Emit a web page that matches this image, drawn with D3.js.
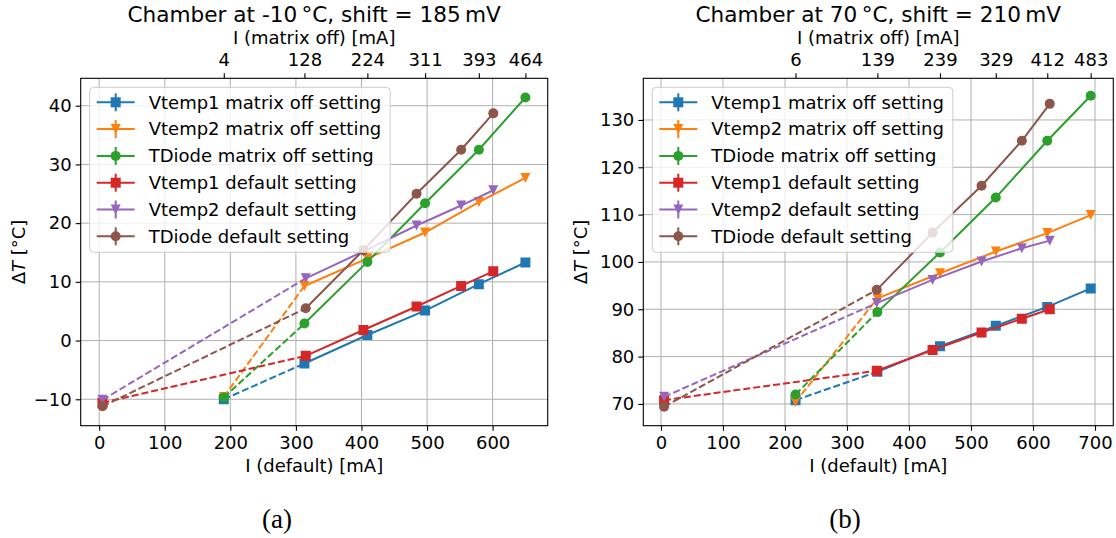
<!DOCTYPE html>
<html>
<head>
<meta charset="utf-8">
<script src="https://cdn.jsdelivr.net/npm/d3@7"></script>
<style>
  body { margin: 0; background: #fff; }
</style>
</head>
<body>
<svg id="chart" width="1116" height="538"></svg>
<script>
const seriesNames = [
    'Vtemp1 matrix off setting',
    'Vtemp2 matrix off setting',
    'TDiode matrix off setting',
    'Vtemp1 default setting',
    'Vtemp2 default setting',
    'TDiode default setting'
];
const seriesColors = ['#1f77b4', '#ff7f0e', '#2ca02c', '#d62728', '#9467bd', '#8c564b'];
const seriesMarkers = ['square', 'triangle', 'circle', 'square', 'triangle', 'circle'];

// (a) chamber at -10 C
const aOffCurrent = [190, 313, 409, 497, 579, 650];
const aOffLabels = [4, 128, 224, 311, 393, 464];
const aDefCurrent = [5, 315, 403, 484, 552, 601];
const aVtemp1Off = [-10.0, -3.9, 0.95, 5.1, 9.6, 13.3];
const aVtemp2Off = [-9.6, 9.3, 14.0, 18.4, 23.6, 27.7];
const aTDiodeOff = [-9.7, 2.9, 13.4, 23.4, 32.5, 41.4];
const aVtemp1Def = [-10.6, -2.6, 1.8, 5.8, 9.3, 11.8];
const aVtemp2Def = [-10.1, 10.6, 15.2, 19.6, 23.0, 25.6];
const aTDiodeDef = [-11.2, 5.5, 15.4, 25.0, 32.5, 38.7];
const aXTicks = [0, 100, 200, 300, 400, 500, 600];
const aYTicks = [-10, 0, 10, 20, 30, 40];

// (b) chamber at 70 C
const bOffCurrent = [217, 349, 450, 540, 623, 693];
const bOffLabels = [6, 139, 239, 329, 412, 483];
const bDefCurrent = [5, 348, 438, 517, 582, 627];
const bVtemp1Off = [70.8, 76.8, 82.2, 86.5, 90.5, 94.4];
const bVtemp2Off = [70.4, 92.3, 97.6, 102.2, 106.1, 109.9];
const bTDiodeOff = [72.0, 89.4, 102.0, 113.6, 125.6, 135.1];
const bVtemp1Def = [70.8, 77.0, 81.4, 85.1, 88.0, 90.0];
const bVtemp2Def = [71.5, 91.3, 96.2, 100.1, 102.9, 104.5];
const bTDiodeDef = [69.4, 94.1, 106.2, 116.1, 125.6, 133.4];
const bXTicks = [0, 100, 200, 300, 400, 500, 600, 700];
const bYTicks = [70, 80, 90, 100, 110, 120, 130];

const sans = '"DejaVu Sans", sans-serif';
const serif = '"Liberation Serif", "DejaVu Serif", serif';

const svg = d3.select('#chart').style('font-family', sans);
svg.append('rect').attr('width', 1116).attr('height', 538).attr('fill', '#fff');

const markerPath = (type, s) => {
    const h = s / 2;
    if (type === 'square') return `M${-h},${-h}H${h}V${h}H${-h}Z`;
    if (type === 'triangle') return `M0,${h}L${-h},${-h}L${h},${-h}Z`;
    return d3.symbol(d3.symbolCircle, Math.PI * h * h)();
};

const drawPanel = p => {
    const g = svg.append('g');
    const x = d3.scaleLinear().domain(p.xDomain).range([p.left, p.right]);
    const y = d3.scaleLinear().domain(p.yDomain).range([p.bottom, p.top]);

    // grid
    g.append('g').selectAll('line').data(p.xTicks).enter().append('line')
            .attr('x1', d => x(d)).attr('x2', d => x(d))
            .attr('y1', p.top).attr('y2', p.bottom)
            .attr('stroke', '#b0b0b0').attr('stroke-width', 1);
    g.append('g').selectAll('line').data(p.yTicks).enter().append('line')
            .attr('x1', p.left).attr('x2', p.right)
            .attr('y1', d => y(d)).attr('y2', d => y(d))
            .attr('stroke', '#b0b0b0').attr('stroke-width', 1);

    // series: first segment dashed, the rest solid
    const clipId = 'clip' + p.id;
    svg.append('clipPath').attr('id', clipId).append('rect')
            .attr('x', p.left).attr('y', p.top)
            .attr('width', p.right - p.left).attr('height', p.bottom - p.top);
    const plot = g.append('g').attr('clip-path', `url(#${clipId})`);
    const line = d3.line().x(d => x(d[0])).y(d => y(d[1]));

    p.series.forEach((vals, i) => {
        const xs = i < 3 ? p.offCurrent : p.defCurrent;
        const pts = xs.map((v, j) => [v, vals[j]]);
        const sg = plot.append('g');
        sg.append('path').attr('d', line(pts.slice(0, 2)))
                .attr('fill', 'none').attr('stroke', seriesColors[i])
                .attr('stroke-width', 2).attr('stroke-dasharray', '7,3');
        sg.append('path').attr('d', line(pts.slice(1)))
                .attr('fill', 'none').attr('stroke', seriesColors[i])
                .attr('stroke-width', 2);
        sg.selectAll('path.m').data(pts).enter().append('path')
                .attr('class', 'm')
                .attr('d', markerPath(seriesMarkers[i], 10))
                .attr('transform', d => `translate(${x(d[0])},${y(d[1])})`)
                .attr('fill', seriesColors[i]);
    });

    // frame
    g.append('rect').attr('x', p.left).attr('y', p.top)
            .attr('width', p.right - p.left).attr('height', p.bottom - p.top)
            .attr('fill', 'none').attr('stroke', '#000').attr('stroke-width', 1.1);

    const styleAxis = a => {
        a.attr('font-family', null).attr('font-size', null);
        a.select('.domain').remove();
        a.selectAll('.tick line').attr('stroke', '#000').attr('stroke-width', 1.1);
        a.selectAll('.tick text').attr('font-size', 18).attr('fill', '#000');
    };

    g.append('g').attr('transform', `translate(0,${p.bottom})`)
            .call(d3.axisBottom(x).tickValues(p.xTicks).tickSize(5).tickPadding(6))
            .call(styleAxis);
    g.append('g').attr('transform', `translate(${p.left},0)`)
            .call(d3.axisLeft(y).tickValues(p.yTicks).tickSize(5).tickPadding(4))
            .call(styleAxis);
    g.append('g').attr('transform', `translate(0,${p.top})`)
            .call(d3.axisTop(x).tickValues(p.offCurrent).tickSize(5).tickPadding(7.5)
                    .tickFormat((d, i) => p.offLabels[i]))
            .call(styleAxis);

    const cx = (p.left + p.right) / 2;
    g.append('text').attr('x', cx).attr('y', 22).attr('text-anchor', 'middle')
            .attr('font-size', 21.6).text(p.title);
    g.append('text').attr('x', cx).attr('y', 43.5).attr('text-anchor', 'middle')
            .attr('font-size', 18).text('I (matrix off) [mA]');
    g.append('text').attr('x', cx).attr('y', 472).attr('text-anchor', 'middle')
            .attr('font-size', 18).text('I (default) [mA]');
    const yl = g.append('text')
            .attr('transform', `translate(${p.left - 56},${(p.top + p.bottom) / 2}) rotate(-90)`)
            .attr('text-anchor', 'middle').attr('font-size', 18);
    yl.append('tspan').text('\u0394');
    yl.append('tspan').attr('font-style', 'italic').text('T');
    yl.append('tspan').text(' [\u00b0C]');

    g.append('text').attr('x', p.capX).attr('y', 528).attr('text-anchor', 'middle')
            .style('font-family', serif)
            .attr('font-size', 27).text(p.caption);

    // legend
    const lg = g.append('g').attr('transform', `translate(${p.left + 9},${p.top + 9})`);
    const box = lg.append('rect').attr('fill', '#fff').attr('fill-opacity', 0.8)
            .attr('stroke', '#cccccc').attr('rx', 4);
    let maxW = 0;
    seriesNames.forEach((name, i) => {
        const ey = 15 + i * 26.8;
        lg.append('line').attr('x1', 7).attr('x2', 45).attr('y1', ey).attr('y2', ey)
                .attr('stroke', seriesColors[i]).attr('stroke-width', 2);
        lg.append('line').attr('x1', 26).attr('x2', 26).attr('y1', ey - 9).attr('y2', ey + 9)
                .attr('stroke', seriesColors[i]).attr('stroke-width', 2);
        lg.append('path').attr('d', markerPath(seriesMarkers[i], 10))
                .attr('transform', `translate(26,${ey})`).attr('fill', seriesColors[i]);
        const t = lg.append('text').attr('x', 59).attr('y', ey).attr('dy', '0.35em')
                .attr('font-size', 18).text(name);
        maxW = Math.max(maxW, t.node().getComputedTextLength());
    });
    box.attr('width', 59 + maxW + 9).attr('height', 15 + 5 * 26.8 + 16);
};

drawPanel({
    id: 'a', title: 'Chamber at -10\u2009\u00b0C, shift = 185\u2009mV', caption: '(a)', capX: 277,
    left: 80.7, right: 547.7, top: 78.3, bottom: 425.7,
    xDomain: [-28.2, 684], yDomain: [-14.5, 44.67],
    xTicks: aXTicks, yTicks: aYTicks,
    offCurrent: aOffCurrent, offLabels: aOffLabels, defCurrent: aDefCurrent,
    series: [aVtemp1Off, aVtemp2Off, aTDiodeOff, aVtemp1Def, aVtemp2Def, aTDiodeDef]
});

drawPanel({
    id: 'b', title: 'Chamber at 70\u2009\u00b0C, shift = 210\u2009mV', caption: '(b)', capX: 845,
    left: 643.3, right: 1113.3, top: 78.3, bottom: 425.7,
    xDomain: [-28.5, 729.5], yDomain: [65.4, 138.8],
    xTicks: bXTicks, yTicks: bYTicks,
    offCurrent: bOffCurrent, offLabels: bOffLabels, defCurrent: bDefCurrent,
    series: [bVtemp1Off, bVtemp2Off, bTDiodeOff, bVtemp1Def, bVtemp2Def, bTDiodeDef]
});
</script>
</body>
</html>
